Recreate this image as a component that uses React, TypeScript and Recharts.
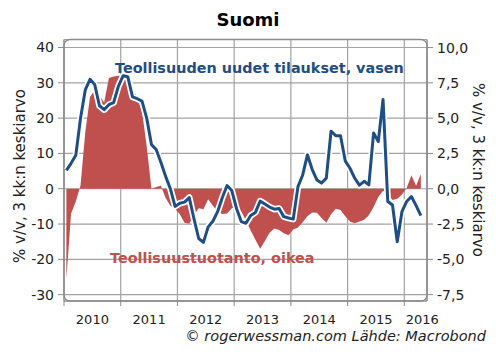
import React from 'react';
import { ComposedChart, Area, Line, XAxis, YAxis, CartesianGrid, ReferenceArea } from 'recharts';

const months = [
  '2010-01','2010-02','2010-03','2010-04','2010-05','2010-06','2010-07','2010-08','2010-09','2010-10','2010-11','2010-12',
  '2011-01','2011-02','2011-03','2011-04','2011-05','2011-06','2011-07','2011-08','2011-09','2011-10','2011-11','2011-12',
  '2012-01','2012-02','2012-03','2012-04','2012-05','2012-06','2012-07','2012-08','2012-09','2012-10','2012-11','2012-12',
  '2013-01','2013-02','2013-03','2013-04','2013-05','2013-06','2013-07','2013-08','2013-09','2013-10','2013-11','2013-12',
  '2014-01','2014-02','2014-03','2014-04','2014-05','2014-06','2014-07','2014-08','2014-09','2014-10','2014-11','2014-12',
  '2015-01','2015-02','2015-03','2015-04','2015-05','2015-06','2015-07','2015-08','2015-09','2015-10','2015-11','2015-12',
  '2016-01','2016-02','2016-03','2016-04',
];

// Teollisuuden uudet tilaukset, % v/v (vasen akseli)
const orders = [
  5.2, 7.2, 9.5, 20, 28, 31, 29.5, 23.5, 22.4, 23.8, 24.4, 29,
  32, 31.7, 26, 25.5, 24.8, 20, 12.5, 11.1, 7.5, 3.5, 0, -5,
  -4.1, -3.8, -2.5, -8.5, -14.1, -15.2, -10.8, -9.2, -6.5, -2.5, 0.9, -0.5,
  -5.6, -9.3, -9.8, -7.6, -6.7, -3.5, -4.3, -5.2, -5.8, -5.6, -7.9, -8.3,
  -8.6, 0.6, 3.9, 9.6, 5.5, 2.5, 1.6, 3, 16.3, 15, 15, 7.9,
  5.8, 3, 1, 2.1, 1.1, 15.8, 13.4, 25.3, -3.6, -4.6, -15, -6.5,
  -3.6, -2.2, -4.8, -7.6,
];

// Teollisuustuotanto, % v/v (oikea akseli)
const production = [
  -6.4, -1.75, -0.9, 0.25, 4, 6.5, 7, 6.6, 6.1, 7.85, 7.95, 8,
  7.95, 7.5, 7, 6.5, 5.5, 3, 0, 0.12, 0.22, -0.65, -1.2, -1.42,
  -1.8, -2.4, -2.48, -1.88, -1.38, -1.45, -0.75, -1.2, -1.62, -1.78, -1.75, -1.38,
  -1.25, -1.62, -2.25, -2.95, -3.62, -4.25, -3.7, -3.12, -2.82, -2.92, -3.15, -3.3,
  -2.88, -2.75, -2.38, -1.95, -1.68, -1.7, -2.08, -2.4, -1.8, -1.42, -1.5, -1.95,
  -2.32, -2.45, -2.32, -2.2, -1.88, -1.3, -0.58, -0.15, -0.38, -0.8, -0.7, -0.4,
  0.05, 0.95, 0.22, 1.05,
];

const years = [2010, 2011, 2012, 2013, 2014, 2015, 2016];
const leftTicks = [-30, -20, -10, 0, 10, 20, 30, 40];
const rightTicks = [-7.5, -5, -2.5, 0, 2.5, 5, 7.5, 10];

const data = months.map((m, i) => {
  const [y, mo] = m.split('-').map(Number);
  return { t: y + (mo - 0.5) / 12, orders: orders[i], production: production[i] };
});

const FONT = '"DejaVu Sans", Verdana, sans-serif';
const BLUE = '#1F4E84';
const RED = '#C0504D';
const GRID = '#a3a3a3';
const X_DOMAIN: [number, number] = [2010, 2016.4];
const L_DOMAIN: [number, number] = [-31.8, 42.27];
const R_DOMAIN: [number, number] = [-7.95, 10.57];

const YearTick = (props: any) => {
  const { x, y, payload } = props;
  const off = payload.value === 2016 ? 18 : 28.4;
  return (
    <text x={x + off} y={y + 18} textAnchor="middle" fontFamily={FONT} fontSize={13} fill="#222">
      {payload.value}
    </text>
  );
};

export default function App() {
  return (
    <div style={{ position: 'absolute', left: 0, top: 0, width: 496, height: 361, background: '#fff' }}>
      <ComposedChart width={496} height={361} data={data} margin={{ top: 39.5, right: 0, bottom: 0, left: 0 }}>
        <CartesianGrid yAxisId="left" stroke={GRID} strokeWidth={1.2} />
        <XAxis
          dataKey="t"
          type="number"
          domain={X_DOMAIN}
          ticks={years}
          allowDataOverflow
          height={60}
          tickSize={5}
          tickMargin={0}
          tick={<YearTick />}
          axisLine={{ stroke: '#8c8c8c' }}
          tickLine={{ stroke: '#8c8c8c' }}
        />
        <YAxis
          yAxisId="left"
          orientation="left"
          width={64}
          domain={L_DOMAIN}
          ticks={leftTicks}
          allowDataOverflow
          tickSize={6}
          tickMargin={4}
          tick={{ fontFamily: FONT, fontSize: 14, fill: '#222' }}
          axisLine={{ stroke: '#8c8c8c' }}
          tickLine={{ stroke: '#8c8c8c' }}
        />
        <YAxis
          yAxisId="right"
          orientation="right"
          width={69}
          domain={R_DOMAIN}
          ticks={rightTicks}
          allowDataOverflow
          tickSize={6}
          tickMargin={4}
          tickFormatter={(v: number) => v.toFixed(1).replace('.', ',')}
          tick={{ fontFamily: FONT, fontSize: 14, fill: '#222' }}
          axisLine={{ stroke: '#8c8c8c' }}
          tickLine={{ stroke: '#8c8c8c' }}
        />
        <Area
          yAxisId="right"
          type="linear"
          dataKey="production"
          baseValue={0}
          stroke="none"
          fill={RED}
          fillOpacity={1}
          dot={false}
          activeDot={false}
          isAnimationActive={false}
        />
        <Line
          yAxisId="left"
          type="linear"
          dataKey="orders"
          stroke="#ffffff"
          strokeWidth={6.5}
          strokeLinejoin="round"
          dot={false}
          activeDot={false}
          isAnimationActive={false}
        />
        <Line
          yAxisId="left"
          type="linear"
          dataKey="orders"
          stroke={BLUE}
          strokeWidth={3}
          strokeLinejoin="round"
          dot={false}
          activeDot={false}
          isAnimationActive={false}
        />
        <ReferenceArea
          yAxisId="left"
          x1={X_DOMAIN[0]}
          x2={X_DOMAIN[1]}
          y1={L_DOMAIN[0]}
          y2={L_DOMAIN[1]}
          fill="none"
          fillOpacity={0}
          stroke="#8c8c8c"
          strokeWidth={1.3}
          radius={6}
          ifOverflow="visible"
        />
      </ComposedChart>
      <svg width={496} height={361} style={{ position: 'absolute', left: 0, top: 0, pointerEvents: 'none' }}>
        <text x={248} y={26} textAnchor="middle" fontFamily={FONT} fontWeight="bold" fontSize={18} fill="#000">Suomi</text>
        <text x={115} y={73} fontFamily={FONT} fontWeight="bold" fontSize={14.4} fill={BLUE}>Teollisuuden uudet tilaukset, vasen</text>
        <text x={110} y={263} fontFamily={FONT} fontWeight="bold" fontSize={14.4} fill={RED}>Teollisuustuotanto, oikea</text>
        <text transform="translate(25,176) rotate(-90)" textAnchor="middle" fontFamily={FONT} fontSize={15} fill="#222">% v/v, 3 kk:n keskiarvo</text>
        <text transform="translate(473,170) rotate(90)" textAnchor="middle" fontFamily={FONT} fontSize={15} fill="#222">% v/v, 3 kk:n keskiarvo</text>
        <text x={486} y={341} textAnchor="end" fontFamily={FONT} fontStyle="italic" fontSize={14.5} fill="#222">© rogerwessman.com Lähde: Macrobond</text>
      </svg>
    </div>
  );
}
